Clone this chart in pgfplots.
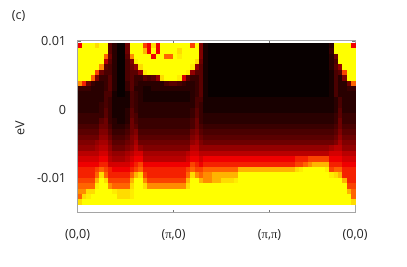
\documentclass[border=0pt]{standalone}
\usepackage{pgfplots}
\usepackage{pgfplotstable}
\usepackage{fontspec}
\setmainfont{Open Sans}
\newfontfamily\pif{Liberation Serif}
\pgfplotsset{compat=1.18}
\pgfdeclareplotmark{cell}{\pgfpathrectangle{\pgfpoint{-2.3pt}{-2.85pt}}{\pgfpoint{4.6pt}{5.7pt}}\pgfusepathqfill}
\pgfplotstableread[header=false]{
12 20 20 20 18 20 20 5  2 0 0 6 20 20 20 14  12 18 12 20 20 20 20 20  20 20 14 20 7 1 0 0  0 0 0 0 0 0 0 0  0 0 0 0 0 0 0 0  0 0 0 0 0 0 0 0  0 0 2 20 20 20 20 12
20 20 20 20 20 20 20 5  2 0 0 6 20 20 20 17  12 20 12 20 20 20 20 18  20 20 20 20 7 1 0 0  0 0 0 0 0 0 0 0  0 0 0 0 0 0 0 0  0 0 0 0 0 0 0 0  0 0 3 20 20 20 20 20
20 20 20 20 20 20 15 6  2 0 0 5 16 20 20 20  20 12 20 20 15 15 20 19  20 20 20 20 7 1 0 0  0 0 0 0 0 0 0 0  0 0 0 0 0 0 0 0  0 0 0 0 0 0 0 0  0 0 2 6 20 20 20 20
20 20 20 20 20 20 10 5  2 0 0 4 7 19 20 20  20 20 20 20 20 20 20 20  20 20 20 18 6 1 0 0  0 0 0 0 0 0 0 0  0 0 0 0 0 0 0 0  0 0 0 0 0 0 0 0  0 0 2 4 20 20 20 20
20 20 20 20 20 16 5 4  2 0 0 4 6 8 18 20  20 20 20 20 20 20 20 20  20 20 19 8 5 1 0 0  0 0 0 0 0 0 0 0  0 0 0 0 0 0 0 0  0 0 0 0 0 0 0 0  0 0 2 5 8 20 20 20
20 20 20 20 14 6 4 4  2 0 0 4 5 5 8 19  20 20 20 20 20 20 20 20  20 19 8 5 5 1 0 0  0 0 0 0 0 0 0 0  0 0 0 0 0 0 0 0  0 0 0 0 0 0 0 0  0 0 1 4 5 14 20 20
20 20 20 15 7 3 3 5  2 0 0 4 5 3 3 5  4 5 8 18 20 20 20 19  11 5 3 3 5 1 0 0  0 0 0 0 0 0 0 0  0 0 0 0 0 0 0 0  0 0 0 0 0 0 0 0  0 0 1 4 2 7 20 20
16 13 6 3 2 2 3 5  2 0 0 3 5 3 2 2  2 2 2 2 4 5 5 4  3 2 2 3 5 1 0 0  0 0 0 0 0 0 0 0  0 0 0 0 0 0 0 0  0 0 0 0 0 0 0 0  0 0 1 4 2 2 6 15
3 3 3 2 2 2 3 5  2 0 0 3 5 2 2 1  1 2 2 2 2 2 2 2  2 2 2 3 5 1 0 0  0 0 0 0 0 0 0 0  0 0 0 0 0 0 0 0  0 0 0 0 0 0 0 0  0 0 1 4 2 2 3 3
2 2 2 2 2 2 4 4  1 0 0 1 4 3 2 1  1 1 1 1 1 1 1 1  1 1 2 3 5 1 0 0  0 0 0 0 0 0 0 0  0 0 0 0 0 0 0 0  0 0 0 0 0 0 0 0  0 0 1 4 2 2 2 2
2 2 2 2 2 2 4 3  1 1 1 1 4 3 2 1  1 1 1 1 1 1 1 1  1 1 2 4 4 1 1 1  1 1 1 1 1 1 1 1  1 1 1 1 1 1 1 1  1 1 1 1 1 1 1 1  1 1 1 2 4 2 2 2
2 2 2 2 2 3 4 3  1 1 1 1 4 3 2 2  2 2 2 2 2 2 2 2  2 2 2 4 3 1 1 1  1 1 1 1 1 1 1 1  1 1 1 1 1 1 1 1  1 1 1 1 1 1 1 1  1 1 1 2 4 2 2 2
2 2 2 2 2 3 5 3  1 1 1 2 5 3 2 2  2 2 2 2 2 2 2 2  2 2 3 5 3 1 1 1  1 1 1 1 1 1 1 1  1 1 1 1 1 1 1 1  1 1 1 1 1 1 1 1  1 1 1 2 5 2 2 2
3 3 3 3 3 3 5 3  1 1 1 2 5 4 2 2  2 2 2 2 2 2 2 2  2 2 3 5 3 2 2 2  2 2 2 2 2 2 2 2  2 2 2 2 2 2 2 2  2 2 2 2 2 2 2 2  2 2 2 3 5 3 3 3
3 3 3 3 3 5 6 3  2 1 1 2 6 4 3 3  3 3 3 3 3 3 3 3  3 3 4 6 3 2 2 2  2 2 2 2 2 2 2 2  2 2 2 2 2 2 2 2  2 2 2 2 2 2 2 2  2 2 2 3 6 3 3 3
4 4 4 4 4 6 6 4  2 2 2 3 6 5 3 3  3 3 3 3 3 3 3 3  3 3 4 6 4 3 3 3  3 3 3 3 3 3 3 3  3 3 3 3 3 3 3 3  3 3 3 3 3 3 3 3  3 3 3 4 6 4 4 4
5 5 5 5 5 7 7 5  3 3 3 4 6 7 4 4  4 4 4 4 4 4 4 4  4 4 6 7 5 4 4 4  4 4 4 4 4 4 4 4  4 4 4 4 4 4 4 4  4 4 4 4 4 4 4 4  4 4 4 5 7 5 5 5
6 6 6 6 6 8 8 6  4 4 4 5 7 8 5 5  5 5 5 5 5 5 5 5  5 5 7 8 6 5 5 5  5 5 5 5 5 5 5 5  5 5 5 5 5 5 5 5  5 5 5 5 5 5 5 5  5 5 5 6 8 6 6 6
7 7 7 7 8 9 9 7  5 5 5 6 7 9 6 6  6 6 6 6 6 6 6 6  6 6 8 9 7 6 6 6  6 6 6 6 6 6 6 6  6 6 6 6 6 6 6 6  6 6 6 6 6 6 6 6  6 6 6 7 9 7 7 7
8 8 8 8 9 10 10 8  6 6 6 7 8 10 8 7  7 7 7 7 7 7 7 7  7 7 10 10 8 8 8 8  8 8 8 8 8 8 8 8  8 8 8 8 8 8 8 8  8 8 8 8 8 8 8 8  8 8 9 10 10 8 8 8
10 10 10 10 10 11 11 9  8 8 8 9 10 11 11 9  9 9 9 9 9 9 9 9  9 10 11 11 10 10 10 10  10 10 10 10 10 10 10 10  10 10 10 10 10 10 10 10  10 10 10 10 10 10 10 10  10 10 11 11 11 10 10 10
11 11 11 11 11 12 12 10  9 9 9 10 11 12 12 10  10 10 10 10 10 10 10 10  10 11 12 12 11 12 12 12  12 12 12 12 12 12 12 12  12 12 12 12 12 12 12 12  12 12 13 13 13 14 14 14  14 14 12 12 12 11 11 11
12 12 12 12 12 13 13 11  11 11 11 11 12 13 14 12  12 12 12 12 12 12 12 12  12 12 14 13 12 13 13 13  13 13 13 13 13 13 13 13  13 13 13 13 13 13 13 13  13 13 14 14 15 16 17 17  17 17 13 13 13 12 12 12
13 13 13 13 14 15 14 13  12 12 12 12 13 14 15 13  13 13 13 13 13 13 13 13  13 14 15 14 14 15 15 15  15 15 15 15 15 17 17 17  17 17 17 17 17 17 17 17  17 17 18 19 20 20 20 20  20 19 14 15 15 13 13 13
13 13 13 13 15 18 15 13  13 13 13 13 15 17 18 14  13 13 13 13 13 13 13 13  13 15 18 16 15 16 16 17  17 17 17 17 17 20 20 20  20 20 20 20 20 20 20 20  20 20 20 20 20 20 20 20  20 20 19 18 17 13 13 13
14 14 14 14 17 20 18 14  14 14 14 14 17 20 20 16  14 14 14 14 14 14 14 14  14 17 20 20 17 16 16 17  17 18 18 18 19 20 20 20  20 20 20 20 20 20 20 20  20 20 20 20 20 20 20 20  20 20 20 20 20 17 13 13
15 15 15 15 19 20 20 16  15 15 15 15 18 20 20 18  16 16 16 16 16 16 16 16  16 18 20 20 20 20 20 20  20 20 20 20 20 20 20 20  20 20 20 20 20 20 20 20  20 20 20 20 20 20 20 20  20 20 20 20 20 20 14 14
16 16 18 18 20 20 20 20  19 18 18 18 19 20 20 20  20 20 20 20 20 20 20 20  20 20 20 20 20 20 20 20  20 20 20 20 20 20 20 20  20 20 20 20 20 20 20 20  20 20 20 20 20 20 20 20  20 20 20 20 20 20 17 15
15 18 19 20 20 20 20 20  20 18 18 18 19 20 20 20  20 20 20 20 20 20 20 20  20 20 20 20 20 20 20 20  20 20 20 20 20 20 20 20  20 20 20 20 20 20 20 20  20 20 20 20 20 20 20 20  20 20 20 20 20 20 20 15
18 20 20 20 20 20 20 20  20 20 20 20 20 20 20 20  20 20 20 20 20 20 20 20  20 20 20 20 20 20 20 20  20 20 20 20 20 20 20 20  20 20 20 20 20 20 20 20  20 20 20 20 20 20 20 20  20 20 20 20 20 20 20 18
}\heat
\definecolor{axgray}{RGB}{165,165,165}
\begin{document}
\begin{tikzpicture}[x=1pt,y=1pt]
\path[use as bounding box] (0,0) rectangle (407,267);
\begin{axis}[
  at={(77.7pt,54.4pt)}, anchor=south west,
  scale only axis, width=277.8pt, height=171.6pt,
  xmin=0, xmax=64, ymin=-0.015, ymax=0.01,
  xtick={0,22.1,44.2,63.9},
  xticklabels={{(0,0)},{({\pif π},0)},{({\pif π},{\pif π})},{(0,0)}},
  ytick={-0.01,0,0.01},
  yticklabels={-0.01,0,0.01},
  scaled y ticks=false,
  tick align=inside, major tick length=3pt,
  tick style={draw=black!55, line width=0.6pt},
  axis line style={draw=axgray, line width=1pt},
  tick label style={font=\fontsize{12.6}{14}\selectfont, text=black!85},
  xticklabel style={yshift=-13pt},
  yticklabel style={xshift=-8pt},
  colormap={hot}{rgb255(0)=(8,0,0) rgb255(5)=(90,0,0) rgb255(10)=(185,0,0) rgb255(12)=(240,0,0) rgb255(15)=(255,100,0) rgb255(18)=(255,220,0) rgb255(20)=(255,255,0)},
  point meta min=0, point meta max=20,
  axis on top,
]
\pgfplotsinvokeforeach{0,...,63}{
  \addplot[scatter, only marks, mark=cell, scatter src=explicit, forget plot]
    table[x expr={#1+0.5}, y expr={0.00971-(\coordindex+0.5)*0.000787}, meta index=#1]{\heat};
}
\end{axis}
\node[font=\fontsize{12.6}{14}\selectfont, text=black!85] at (18.5,250.5) {(c)};
\node[font=\fontsize{12.6}{14}\selectfont, text=black!85, rotate=90] at (20,138.5) {eV};
\end{tikzpicture}
\end{document}
